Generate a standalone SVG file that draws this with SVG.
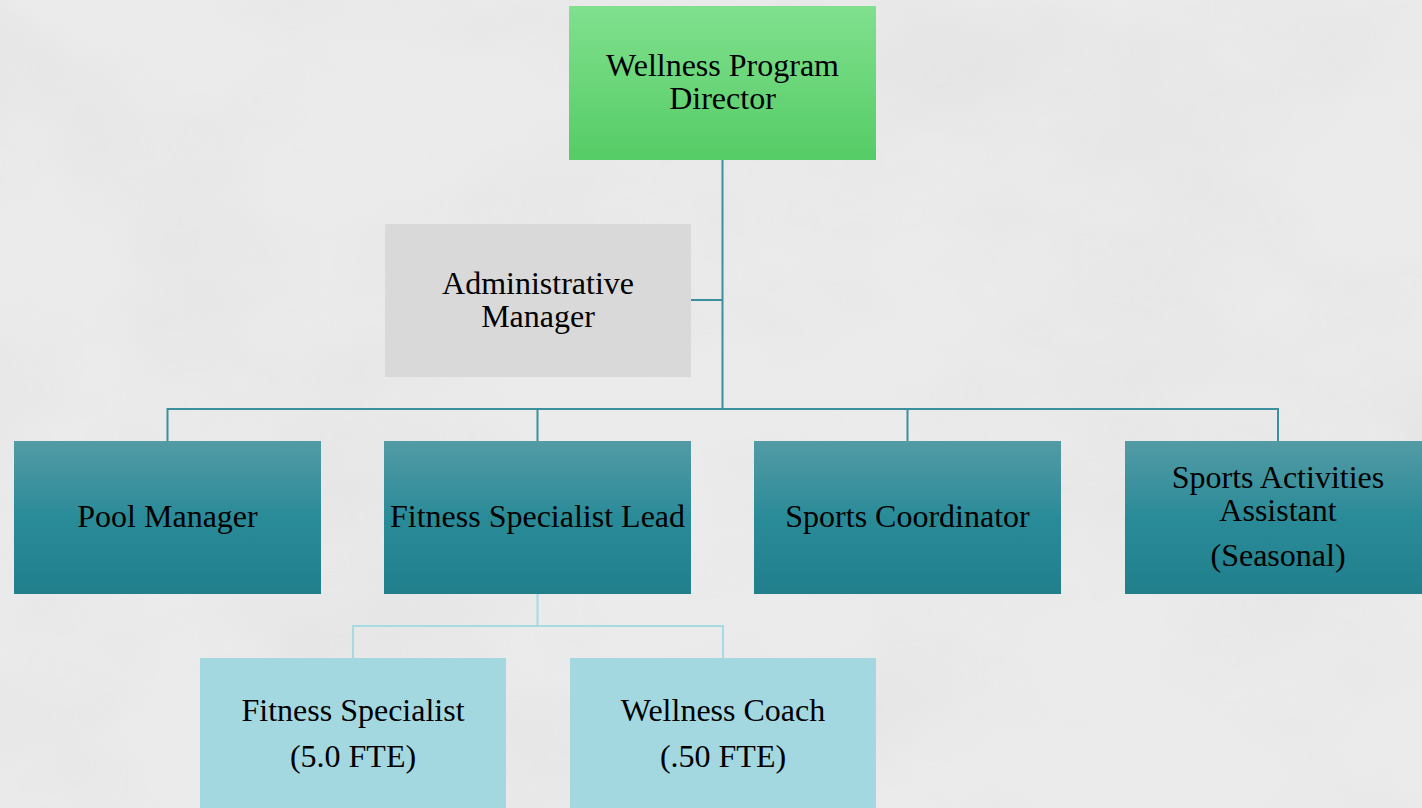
<svg xmlns="http://www.w3.org/2000/svg" width="1422" height="808" viewBox="0 0 1422 808">
  <defs>
    <linearGradient id="gGreen" x1="0" y1="0" x2="0" y2="1">
      <stop offset="0" stop-color="#80e08e"/>
      <stop offset="1" stop-color="#55cc65"/>
    </linearGradient>
    <linearGradient id="gTeal" x1="0" y1="0" x2="0" y2="1">
      <stop offset="0" stop-color="#539ba5"/>
      <stop offset="0.5" stop-color="#2a8b98"/>
      <stop offset="1" stop-color="#217f8c"/>
    </linearGradient>
    <filter id="marble" x="0" y="0" width="100%" height="100%">
      <feTurbulence type="fractalNoise" baseFrequency="0.004 0.006" numOctaves="4" seed="7" result="n"/>
      <feColorMatrix in="n" type="matrix" values="0 0 0 0 0.5  0 0 0 0 0.5  0 0 0 0 0.5  0 0 0 -1.2 0.75"/>
    </filter>
    <style>
      .lbl { font-family: "Liberation Serif", "Times New Roman", serif; font-size: 32px; fill: #000; text-anchor: middle; }
      .main { fill: none; stroke: #3a909c; stroke-width: 2; }
      .sub { fill: none; stroke: #a6dbe3; stroke-width: 2; }
    </style>
  </defs>

  <g id="background">
    <rect x="0" y="0" width="1422" height="808" fill="#ebebeb"/>
    <rect x="0" y="0" width="1422" height="808" filter="url(#marble)" opacity="0.2"/>
  </g>

  <g id="connectors">
    <path class="main" d="M722.5 160 V409 M691 300 H722.5 M167.5 441 V409 H1278 V441 M537.5 409 V441 M907.5 409 V441"/>
    <path class="sub" d="M537.5 594 V626 M353 658 V626 H723 V658"/>
  </g>

  <g id="node-director">
    <rect x="569" y="6" width="307" height="154" fill="url(#gGreen)"/>
    <text class="lbl" x="722.5" y="76">Wellness Program</text>
    <text class="lbl" x="722.5" y="109">Director</text>
  </g>

  <g id="node-admin">
    <rect x="385" y="224" width="306" height="153" fill="#d9d9d9"/>
    <text class="lbl" x="538" y="294">Administrative</text>
    <text class="lbl" x="538" y="327">Manager</text>
  </g>

  <g id="node-pool">
    <rect x="14" y="441" width="307" height="153" fill="url(#gTeal)"/>
    <text class="lbl" x="167.5" y="527">Pool Manager</text>
  </g>

  <g id="node-fitness-lead">
    <rect x="384" y="441" width="307" height="153" fill="url(#gTeal)"/>
    <text class="lbl" x="537.5" y="527">Fitness Specialist Lead</text>
  </g>

  <g id="node-sports-coord">
    <rect x="754" y="441" width="307" height="153" fill="url(#gTeal)"/>
    <text class="lbl" x="907.5" y="527">Sports Coordinator</text>
  </g>

  <g id="node-sports-assistant">
    <rect x="1125" y="441" width="307" height="153" fill="url(#gTeal)"/>
    <text class="lbl" x="1278" y="488">Sports Activities</text>
    <text class="lbl" x="1278" y="521">Assistant</text>
    <text class="lbl" x="1278" y="566">(Seasonal)</text>
  </g>

  <g id="node-fitness-specialist">
    <rect x="200" y="658" width="306" height="160" fill="#a3d8e0"/>
    <text class="lbl" x="353" y="721">Fitness Specialist</text>
    <text class="lbl" x="353" y="767">(5.0 FTE)</text>
  </g>

  <g id="node-wellness-coach">
    <rect x="570" y="658" width="306" height="160" fill="#a3d8e0"/>
    <text class="lbl" x="723" y="721">Wellness Coach</text>
    <text class="lbl" x="723" y="767">(.50 FTE)</text>
  </g>
</svg>
